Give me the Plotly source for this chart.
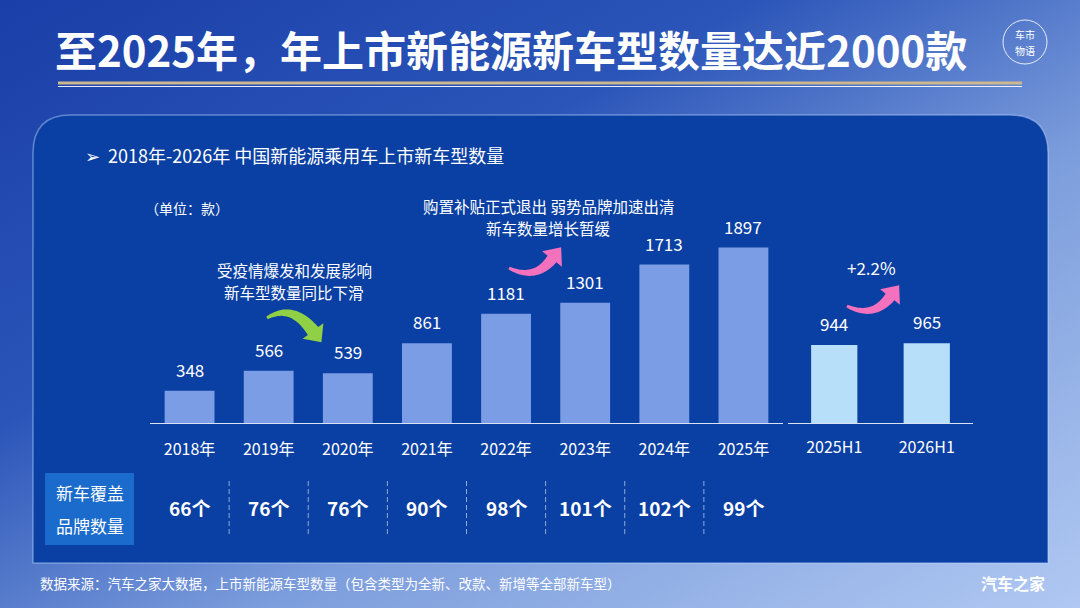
import base64
import plotly.graph_objects as go

# ---------------------------------------------------------------- data
years = ["2018年", "2019年", "2020年", "2021年", "2022年", "2023年", "2024年", "2025年"]
models = [348, 566, 539, 861, 1181, 1301, 1713, 1897]
half_years = ["2025H1", "2026H1"]
half_models = [944, 965]
brands = [66, 76, 76, 90, 98, 101, 102, 99]

title = "至2025年，年上市新能源新车型数量达近2000款"
subtitle = "➢  2018年-2026年 中国新能源乘用车上市新车型数量"
unit = "（单位：款）"
note_covid = ["受疫情爆发和发展影响", "新车型数量同比下滑"]
note_subsidy = ["购置补贴正式退出 弱势品牌加速出清", "新车数量增长暂缓"]
note_growth = "+2.2%"
row_label = ["新车覆盖", "品牌数量"]
source = "数据来源：汽车之家大数据，上市新能源车型数量（包含类型为全新、改款、新增等全部新车型）"
brand_mark = "汽车之家"

W, H = 1080, 608
FONT = "Noto Sans CJK SC"


def X(px):
    return px / W


def Y(py):
    return 1 - py / H


# ---------------------------------------------------------------- background gradient
svg = f"""<svg xmlns='http://www.w3.org/2000/svg' width='{W}' height='{H}' viewBox='0 0 {W} {H}' preserveAspectRatio='none'>
<defs><linearGradient id='g' x1='0' y1='0' x2='1' y2='1'>
<stop offset='0' stop-color='#1a3fa8'/>
<stop offset='0.35' stop-color='#2b55b9'/>
<stop offset='0.62' stop-color='#7c9ddc'/>
<stop offset='1' stop-color='#b0c8f2'/>
</linearGradient></defs>
<rect width='{W}' height='{H}' fill='url(#g)'/></svg>"""
bg_uri = "data:image/svg+xml;base64," + base64.b64encode(svg.encode()).decode()


def rounded_panel(x0, y0, x1, y1, r):
    # rounded top corners only
    rx, ry = r / W, r / H
    a, b, c, d = X(x0), Y(y0), X(x1), Y(y1)
    return (f"M {a},{d} L {a},{b - ry} Q {a},{b} {a + rx},{b} "
            f"L {c - rx},{b} Q {c},{b} {c},{b - ry} L {c},{d} Z")


def curved_arrow(p0, ctrl, p1, w0, w1, head_len, head_w, n=24):
    left, right = [], []
    for i in range(n + 1):
        t = i / n
        px = (1 - t) ** 2 * p0[0] + 2 * (1 - t) * t * ctrl[0] + t ** 2 * p1[0]
        py = (1 - t) ** 2 * p0[1] + 2 * (1 - t) * t * ctrl[1] + t ** 2 * p1[1]
        dx = 2 * (1 - t) * (ctrl[0] - p0[0]) + 2 * t * (p1[0] - ctrl[0])
        dy = 2 * (1 - t) * (ctrl[1] - p0[1]) + 2 * t * (p1[1] - ctrl[1])
        ln = (dx * dx + dy * dy) ** 0.5
        nx, ny = -dy / ln, dx / ln
        w = (w0 + (w1 - w0) * t) / 2
        left.append((px + nx * w, py + ny * w))
        right.append((px - nx * w, py - ny * w))
    ux, uy = dx / ln, dy / ln
    tip = (p1[0] + ux * head_len, p1[1] + uy * head_len)
    hl = (p1[0] + nx * head_w / 2, p1[1] + ny * head_w / 2)
    hr = (p1[0] - nx * head_w / 2, p1[1] - ny * head_w / 2)
    pts = left + [hl, tip, hr] + right[::-1]
    return "M " + " L ".join(f"{X(x)},{Y(y)}" for x, y in pts) + " Z"


def text(t, px, py, size, xa="center", ya="middle", **kw):
    return dict(text=t, x=X(px), y=Y(py), xref="paper", yref="paper", showarrow=False,
                xanchor=xa, yanchor=ya, borderpad=0,
                font=dict(size=size, color="white", family=FONT, **kw))


fig = go.Figure()

fig.add_trace(go.Bar(x=years, y=models, marker_color="#7b9de6", marker_line_width=0,
                     xaxis="x", yaxis="y", hoverinfo="skip"))
fig.add_trace(go.Bar(x=half_years, y=half_models, marker_color="#b7dff9", marker_line_width=0,
                     width=0.5, xaxis="x2", yaxis="y2", hoverinfo="skip"))

base_y, top_y = 423, 200
fig.update_layout(
    width=W, height=H,
    margin=dict(l=0, r=0, t=0, b=0),
    paper_bgcolor="#1a3fa8", plot_bgcolor="rgba(0,0,0,0)",
    showlegend=False,
    font=dict(family=FONT, color="white"),
    bargap=0.37,
    xaxis=dict(domain=[X(150), X(783)], type="category", anchor="y",
               showline=True, linecolor="rgba(255,255,255,0.85)", linewidth=1,
               ticks="outside", ticklen=12, tickcolor="rgba(0,0,0,0)",
               tickfont=dict(size=16, color="white"), showgrid=False, fixedrange=True),
    yaxis=dict(domain=[Y(base_y), Y(top_y)], range=[0, 2411], visible=False, fixedrange=True),
    xaxis2=dict(domain=[X(788), X(973)], type="category", anchor="y2",
                showline=True, linecolor="rgba(255,255,255,0.85)", linewidth=1,
                ticks="outside", ticklen=10, tickcolor="rgba(0,0,0,0)",
                tickfont=dict(size=16, color="white"), showgrid=False, fixedrange=True),
    yaxis2=dict(domain=[Y(base_y), Y(top_y)], range=[0, 2700], visible=False, fixedrange=True),
)

fig.add_layout_image(dict(source=bg_uri, xref="paper", yref="paper", x=0, y=1,
                          sizex=1, sizey=1, sizing="stretch", layer="below"))

shapes = []
# panel
shapes.append(dict(type="path", path=rounded_panel(33, 115, 1048, 563, 38), xref="paper", yref="paper",
                   fillcolor="#0a3fa3", line=dict(color="rgba(190,215,255,0.45)", width=1.5), layer="below"))
# title divider
shapes.append(dict(type="line", xref="paper", yref="paper", x0=X(58), x1=X(1022), y0=Y(83), y1=Y(83),
                   line=dict(color="#cdb88e", width=3)))
shapes.append(dict(type="line", xref="paper", yref="paper", x0=X(58), x1=X(1022), y0=Y(86.5), y1=Y(86.5),
                   line=dict(color="rgba(255,255,255,0.9)", width=1.2)))
# logo ring
shapes.append(dict(type="circle", xref="paper", yref="paper", x0=X(1003), x1=X(1047), y0=Y(20), y1=Y(64),
                   line=dict(color="rgba(255,255,255,0.85)", width=1)))
# brand row label box
shapes.append(dict(type="rect", xref="paper", yref="paper", x0=X(45), x1=X(134), y0=Y(473), y1=Y(545),
                   fillcolor="#1a6bcc", line_width=0))
# dashed separators between year columns
for i in range(len(years) - 1):
    shapes.append(dict(type="line", xref="x", yref="paper", x0=i + 0.5, x1=i + 0.5, y0=Y(481), y1=Y(537),
                       line=dict(color="rgba(255,255,255,0.55)", width=1, dash="5px,3px")))
# arrows
shapes.append(dict(type="path", xref="paper", yref="paper", line_width=0, fillcolor="#8fd046",
                   path=curved_arrow((267, 318), (292, 303), (313, 331), 3, 13, 14, 26)))
shapes.append(dict(type="path", xref="paper", yref="paper", line_width=0, fillcolor="#f472bd",
                   path=curved_arrow((509, 268), (535, 281), (552, 259), 3, 11, 15, 25)))
shapes.append(dict(type="path", xref="paper", yref="paper", line_width=0, fillcolor="#f472bd",
                   path=curved_arrow((847, 306), (873, 319), (890, 297), 3, 11, 15, 25)))
fig.update_layout(shapes=shapes)

ann = []
ann.append(text(f"<b>{title}</b>", 511, 49, 42, weight=900))
ann.append(text("车市", 1025, 35, 10))
ann.append(text("物语", 1025, 50, 10))
ann.append(text(subtitle, 84, 155, 18, xa="left"))
ann.append(text(unit, 144, 208, 14, xa="left"))
ann.append(text(note_covid[0], 294, 270, 15.5))
ann.append(text(note_covid[1], 294, 292, 15.5))
ann.append(text(note_subsidy[0], 548, 206, 15.5))
ann.append(text(note_subsidy[1], 548, 228, 15.5))
ann.append(text(note_growth, 871, 267, 17))
# value labels
for cat, v in zip(years, models):
    ann.append(dict(text=str(v), x=cat, y=v, xref="x", yref="y", yanchor="bottom", yshift=7,
                    showarrow=False, font=dict(size=17, color="white")))
for cat, v in zip(half_years, half_models):
    ann.append(dict(text=str(v), x=cat, y=v, xref="x2", yref="y2", yanchor="bottom", yshift=7,
                    showarrow=False, font=dict(size=17, color="white")))
# brand row
for cat, b in zip(years, brands):
    ann.append(dict(text=f"<b>{b}个</b>", x=cat, y=Y(507), xref="x", yref="paper", showarrow=False,
                    yanchor="middle", font=dict(size=19, color="white")))
ann.append(text(row_label[0], 89.5, 492, 17))
ann.append(text(row_label[1], 89.5, 525, 17))
# footer
ann.append(text(source, 39, 583, 13.5, xa="left"))
ann.append(text(f"<b>{brand_mark}</b>", 1046, 583, 16, xa="right"))
fig.update_layout(annotations=ann)

fig.write_html("out.html", config={"displayModeBar": False},
               post_script="document.body.style.margin='0';")
